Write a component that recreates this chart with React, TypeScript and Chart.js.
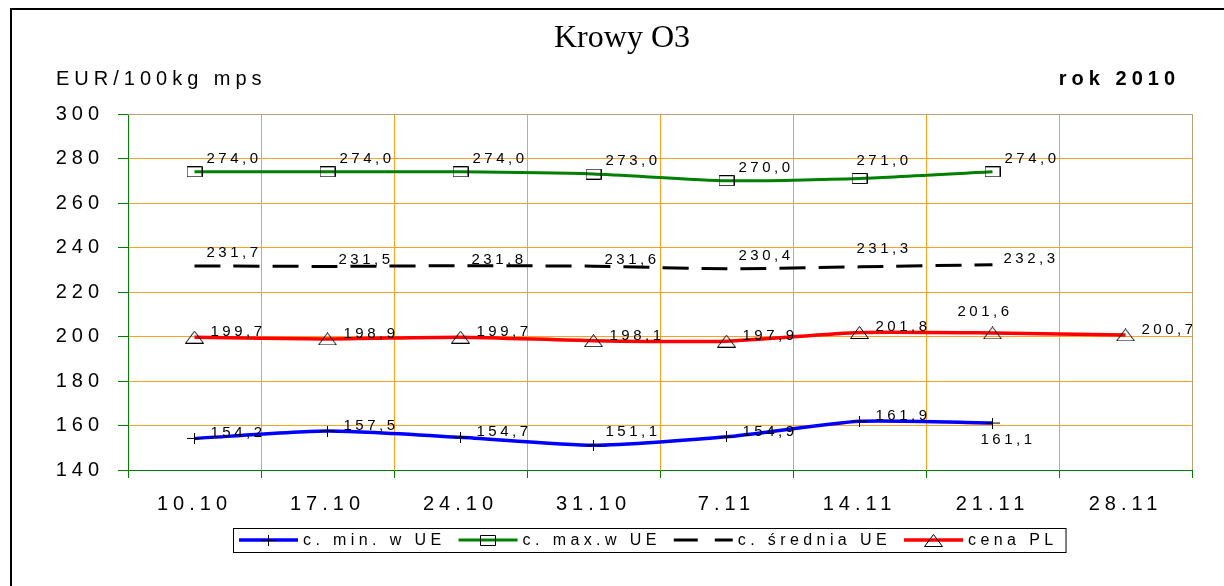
import React, { useEffect, useRef } from 'react';
import { Chart, registerables } from 'chart.js';

Chart.register(...registerables);

const categories = ['10.10', '17.10', '24.10', '31.10', '7.11', '14.11', '21.11', '28.11'];
const minUE = [154.2, 157.5, 154.7, 151.1, 154.9, 161.9, 161.1];
const maxUE = [274.0, 274.0, 274.0, 273.0, 270.0, 271.0, 274.0];
const avgUE = [231.7, 231.5, 231.8, 231.6, 230.4, 231.3, 232.3];
const plPrice = [199.7, 198.9, 199.7, 198.1, 197.9, 201.8, 201.6, 200.7];
const seriesNames = ['c. min. w UE', 'c. max.w UE', 'c. średnia UE', 'cena PL'];
const yMin = 140;
const yMax = 300;
const yStep = 20;
const titleText = 'Krowy O3';
const unitText = 'EUR/100kg mps';
const yearText = 'rok 2010';

// label placement keywords per point
const minPlace = ['r', 'r', 'r', 'ru', 'r', 'r', 'd'];
const maxPlace = ['ru', 'ru', 'ru', 'ru', 'ru', 'u', 'ru'];
const avgPlace = ['ru', 'rs', 'rs', 'rs', 'ru', 'u', 'rs'];
const plPlace = ['r', 'r', 'r', 'r', 'r', 'r', 'ul', 'r'];

const PLACE: Record<string, [number, number]> = {
  r: [16, -1],
  rs: [11, -2],
  ru: [12, -9],
  u: [-3, -14],
  ul: [-35, -17],
  d: [-12, 21],
};

const SANS = '"Liberation Sans", Arial, sans-serif';
const SERIF = '"Liberation Serif", "Times New Roman", serif';

function makeMarker(kind: string): HTMLCanvasElement {
  const c = document.createElement('canvas');
  let w = 15, h = 11;
  if (kind === 'rect') { w = 16; h = 11; }
  if (kind === 'tri') { w = 19; h = 13; }
  c.width = w; c.height = h;
  const g = c.getContext('2d')!;
  g.strokeStyle = '#000';
  g.lineWidth = 1;
  g.beginPath();
  if (kind === 'cross') {
    g.moveTo(0, 5.5); g.lineTo(w, 5.5);
    g.moveTo(7.5, 0); g.lineTo(7.5, h);
  } else if (kind === 'rect') {
    g.rect(0.5, 0.5, w - 1, h - 1);
  } else {
    g.moveTo(w / 2, 0.5); g.lineTo(w - 0.5, h - 0.5); g.lineTo(0.5, h - 0.5); g.closePath();
  }
  g.stroke();
  return c;
}

const fmt = (v: number) => v.toFixed(1).replace('.', ',');

export default function App() {
  const ref = useRef<HTMLCanvasElement>(null);

  useEffect(() => {
    const canvas = ref.current!;
    const crossM = makeMarker('cross');
    const rectM = makeMarker('rect');
    const triM = makeMarker('tri');
    const places = [minPlace, maxPlace, avgPlace, plPlace];
    const markers: (HTMLCanvasElement | null)[] = [crossM, rectM, null, triM];

    const spacing = {
      id: 'spacing',
      beforeUpdate(chart: any) { chart.ctx.letterSpacing = '5px'; },
      beforeLayout(chart: any) { chart.ctx.letterSpacing = '5px'; },
      beforeDraw(chart: any) { chart.ctx.letterSpacing = '5px'; },
    };

    const decor = {
      id: 'decor',
      afterDatasetsDraw(chart: any) {
        const ctx = chart.ctx;
        ctx.save();
        ctx.letterSpacing = '3.5px';
        ctx.font = `15px ${SANS}`;
        ctx.fillStyle = '#000';
        ctx.textAlign = 'left';
        ctx.textBaseline = 'alphabetic';
        chart.data.datasets.forEach((ds: any, i: number) => {
          const meta = chart.getDatasetMeta(i);
          meta.data.forEach((pt: any, j: number) => {
            const v = ds.data[j];
            if (v == null) return;
            const [dx, dy] = PLACE[places[i][j]] || PLACE.r;
            ctx.fillText(fmt(v), pt.x + dx, pt.y + dy);
          });
        });
        ctx.restore();
      },
      afterDraw(chart: any) {
        const ctx = chart.ctx;
        const a = chart.chartArea;
        ctx.save();
        // plot area top/right border
        ctx.strokeStyle = '#B8A078';
        ctx.lineWidth = 1;
        ctx.beginPath();
        ctx.moveTo(a.left, Math.round(a.top) + 0.5);
        ctx.lineTo(Math.round(a.right) + 0.5, Math.round(a.top) + 0.5);
        ctx.lineTo(Math.round(a.right) + 0.5, a.bottom);
        ctx.stroke();
        // outer frame
        ctx.strokeStyle = '#000';
        ctx.lineWidth = 2;
        ctx.beginPath();
        ctx.moveTo(11, 586);
        ctx.lineTo(11, 9);
        ctx.lineTo(1224, 9);
        ctx.stroke();
        // title
        ctx.letterSpacing = '0px';
        ctx.fillStyle = '#000';
        ctx.font = `32px ${SERIF}`;
        ctx.textAlign = 'center';
        ctx.textBaseline = 'alphabetic';
        ctx.fillText(titleText, 622, 47);
        // unit text
        ctx.letterSpacing = '5px';
        ctx.font = `20px ${SANS}`;
        ctx.textAlign = 'left';
        ctx.fillText(unitText, 56, 85);
        // year
        ctx.font = `bold 20px ${SANS}`;
        ctx.textAlign = 'right';
        ctx.fillText(yearText, 1180, 85);
        // legend
        ctx.font = `16px ${SANS}`;
        ctx.letterSpacing = '4.4px';
        ctx.textAlign = 'left';
        ctx.textBaseline = 'middle';
        const boxLeft = 233;
        const boxTop = 528;
        const boxH = 24;
        const cy = boxTop + boxH / 2;
        let x = boxLeft + 6;
        const sampleW = 59;
        chart.data.datasets.forEach((ds: any, i: number) => {
          ctx.save();
          ctx.strokeStyle = ds.borderColor;
          ctx.lineWidth = ds.borderWidth;
          if (ds.borderDash) ctx.setLineDash([24, 17]);
          ctx.beginPath();
          ctx.moveTo(x, cy);
          ctx.lineTo(x + sampleW, cy);
          ctx.stroke();
          ctx.restore();
          const m = markers[i];
          if (m) ctx.drawImage(m, Math.round(x + sampleW / 2 - m.width / 2), Math.round(cy - m.height / 2));
          x += sampleW + 5;
          ctx.fillStyle = '#000';
          ctx.fillText(ds.label, x, cy + 1);
          x += ctx.measureText(ds.label).width + 13;
        });
        const boxRight = x - 5;
        ctx.strokeStyle = '#000';
        ctx.lineWidth = 1;
        ctx.strokeRect(boxLeft + 0.5, boxTop + 0.5, boxRight - boxLeft, boxH);
        ctx.restore();
      },
    };

    const chart = new Chart(canvas, {
      type: 'line',
      data: {
        labels: categories,
        datasets: [
          {
            label: seriesNames[0], data: minUE, borderColor: '#0000FF', borderWidth: 3.5,
            pointStyle: crossM as any, pointRadius: 6, tension: 0.2, fill: false,
          },
          {
            label: seriesNames[1], data: maxUE, borderColor: '#008000', borderWidth: 3,
            pointStyle: rectM as any, pointRadius: 6, tension: 0.2, fill: false,
          },
          {
            label: seriesNames[2], data: avgUE, borderColor: '#000000', borderWidth: 3,
            borderDash: [26, 13], pointRadius: 0, tension: 0.2, fill: false,
          },
          {
            label: seriesNames[3], data: plPrice, borderColor: '#FF0000', borderWidth: 3.5,
            pointStyle: triM as any, pointRadius: 6, tension: 0.2, fill: false,
          },
        ],
      },
      options: {
        animation: false,
        responsive: false,
        maintainAspectRatio: false,
        events: [],
        layout: { padding: { top: 114, right: 32, left: 0, bottom: 0 } },
        plugins: {
          legend: { display: false },
          title: { display: false },
          tooltip: { enabled: false },
        },
        scales: {
          x: {
            type: 'category',
            offset: true,
            grid: { offset: true, color: '#FFA020', tickColor: '#008000', tickLength: 8, lineWidth: 1 },
            border: { color: '#008000', width: 1 },
            ticks: {
              color: '#000', font: { family: SANS, size: 20 }, padding: 14,
              maxRotation: 0, autoSkip: false,
            },
            afterFit: (s: any) => { s.height = 116; },
          },
          y: {
            min: yMin, max: yMax,
            grid: { color: '#FFA020', tickColor: '#008000', tickLength: 10, lineWidth: 1 },
            border: { color: '#008000', width: 1 },
            ticks: { stepSize: yStep, color: '#000', font: { family: SANS, size: 20 }, padding: 14 },
            afterFit: (s: any) => { s.width = 128; },
          },
        },
      },
      plugins: [spacing, decor],
    });
    return () => chart.destroy();
  }, []);

  return (
    <div style={{ position: 'absolute', left: 0, top: 0, width: 1224, height: 586, background: '#fff' }}>
      <canvas ref={ref} width={1224} height={586} style={{ display: 'block', width: 1224, height: 586 }} />
    </div>
  );
}
